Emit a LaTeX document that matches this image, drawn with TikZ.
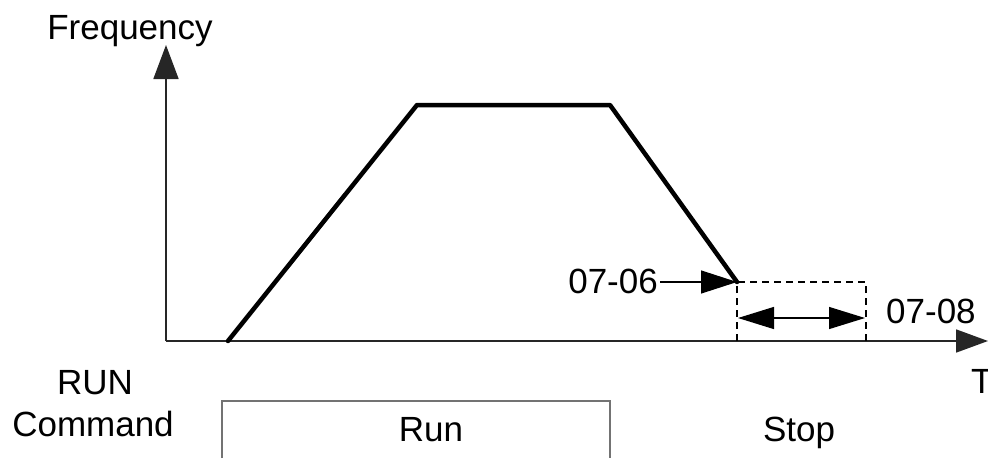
\documentclass[tikz,border=0pt]{standalone}
\usepackage{fontspec}
\setmainfont{Liberation Sans}
\usetikzlibrary{arrows.meta}
\begin{document}
\begin{tikzpicture}[x=1pt,y=-1pt,
  lbl/.style={font=\fontsize{35}{40}\selectfont, inner sep=0pt},
  axis/.style={line width=1.8pt, draw=black!85},
  curve/.style={line width=4.5pt, line cap=round, line join=round},
  dim/.style={line width=1.5pt, dash pattern=on 7pt off 5pt}]
\useasboundingbox (0,0) rectangle (988,458);
% axes
\coordinate (O) at (166,341);
\coordinate (Ytop) at (166,45);
\coordinate (Xend) at (988,341);
\draw[axis,-{Triangle[length=34pt,width=25pt]}] (O) -- (Ytop);
\draw[axis,-{Triangle[length=32pt,width=23pt]}] (O) -- (Xend);
\node[lbl,anchor=base] (freq) at (130,39) {Frequency};
\node[lbl,anchor=base west] (T) at (971,393) {T};
% trapezoid
\coordinate (p0) at (228,341);
\coordinate (p1) at (417,105);
\coordinate (p2) at (610,105);
\coordinate (p3) at (737,282);
\draw[curve] (p0) -- (p1) -- (p2) -- (p3);
% dashed box
\coordinate (d1) at (866,282);
\coordinate (d2) at (866,341);
\coordinate (d3) at (737,341);
\draw[dim] (d3) -- (p3) -- (d1) -- (d2);
% 07-06
\node[lbl,anchor=base east] (l06) at (658,293) {07-06};
\coordinate (s06) at (660,282);
\draw[line width=1.3pt,-{Triangle[length=36pt,width=23pt]}] (s06) -- (p3);
% 07-08
\coordinate (a1) at (738,318);
\coordinate (a2) at (865,318);
\draw[line width=1.3pt,{Triangle[length=36pt,width=22pt]}-{Triangle[length=36pt,width=22pt]}] (a1) -- (a2);
\node[lbl,anchor=base west] (l08) at (886,323) {07-08};
% RUN command
\node[lbl,anchor=base] (run1) at (95,394) {RUN};
\node[lbl,anchor=base] (cmd) at (93,436) {Command};
\coordinate (b0) at (222,458);
\coordinate (b1) at (222,401);
\coordinate (b2) at (610,401);
\coordinate (b3) at (610,458);
\draw[line width=1.5pt, draw=black!55] (b0) -- (b1) -- (b2) -- (b3);
\node[lbl,anchor=base] (run) at (431,441) {Run};
\node[lbl,anchor=base] (stop) at (799,441) {Stop};
\end{tikzpicture}
\end{document}
